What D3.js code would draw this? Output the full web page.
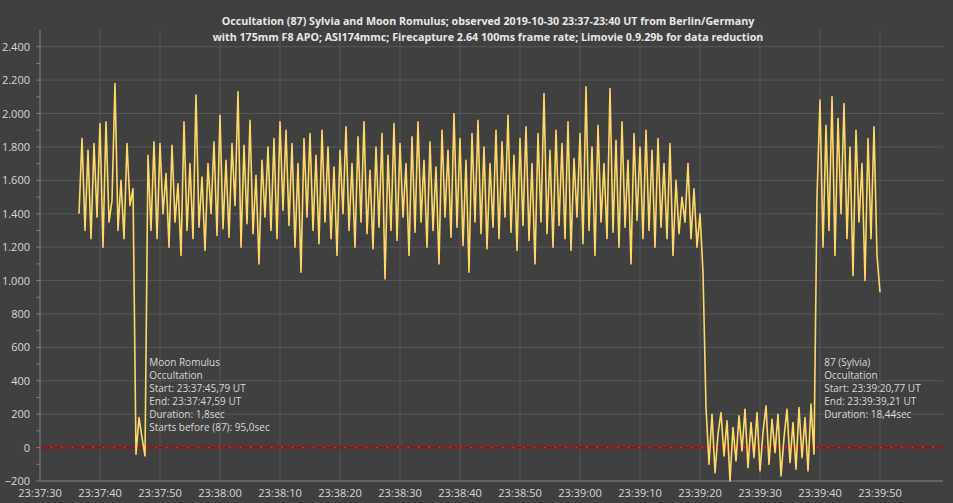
<!DOCTYPE html>
<html><head><meta charset="utf-8">
<script src="https://cdn.jsdelivr.net/npm/d3@7"></script>
<style>body{margin:0;background:#404040}svg{display:block}</style>
</head><body>
<svg id="c" width="953" height="503"></svg>
<script>
const titleLines = ["Occultation (87) Sylvia and Moon Romulus; observed 2019-10-30 23:37-23:40 UT from Berlin/Germany",
  "with 175mm F8 APO; ASI174mmc;  Firecapture 2.64 100ms frame rate; Limovie 0.9.29b for data reduction"];
const tStart = 6.5, tStep = 0.5; // seconds after 23:37:30
const seg1 = [1400,1850,1300,1780,1250,1820,1380,1940,1200,1950,1350,1480,2180,1300,1600,1250,1820,1450,1550];
const dipRomulus = [-40,180,60,-50];
const seg2 = [1750,1300,1830,1250,1820,1400,1640,1200,1810,1350,1580,1150,1950,1300,1700,1250,2110,1320,1620,1180,1700,1400,1830,1270,1990,1310,1720,1260,1820,1450,2130,1200,1810,1340,1960,1280,1630,1100,1720,1380,1800,1300,1850,1250,1950,1420,1900,1330,1820,1200,1700,1050,1850,1380,1880,1300,1750,1220,1900,1350,
1800,1250,1680,1150,1780,1400,1920,1300,1700,1200,1860,1350,1950,1280,1660,1190,1800,1320,1880,1010,1750,1300,1940,1240,1820,1380,1700,1150,1860,1290,1950,1350,1720,1200,1830,1300,1680,1100,1900,1380,1780,1260,2000,1320,1850,1210,1720,1050,1880,1350,1960,1280,1800,1190,1700,1320,1900,1250,1830,1380,
1990,1290,1750,1180,1850,1330,1920,1240,1700,1100,1880,1350,2120,1280,1780,1200,1900,1330,1820,1250,1950,1180,1730,1380,1880,1220,2160,1300,1800,1150,1930,1350,1700,1250,2150,1290,1840,1200,1950,1320,1720,1100,1880,1360,1800,1250,1900,1300,1780,1200,1850,1320,1700,1250,1820,1150,1600,1280,1500,1350,
1700,1250,1550,1200,1400,1050];
const dipSylvia = [240,-100,200,-150,80,210,-50,160,-200,120,-80,190,-20,230,-120,150,-60,210,-140,90,250,-100,170,-30,200,-170,60,230,-90,150,-130,240,-60,180,-140,260,-40];
const seg3 = [1500,2080,1200,1930,1300,2100,1150,1970,1400,2060,1250,1800,1030,1900,1350,1700,1000,1850,1250,1920,1150,930];
const yTicks = [-200,0,200,400,600,800,1000,1200,1400,1600,1800,2000,2200,2400];
const xTickLabels = ["23:37:30","23:37:40","23:37:50","23:38:00","23:38:10","23:38:20","23:38:30","23:38:40","23:38:50","23:39:00","23:39:10","23:39:20","23:39:30","23:39:40","23:39:50"];
const noteRomulus = ["Moon Romulus","Occultation","Start: 23:37:45,79 UT","End: 23:37:47,59 UT","Duration: 1,8sec","Starts before (87): 95,0sec"];
const noteSylvia = ["87 (Sylvia)","Occultation","Start: 23:39:20,77 UT","End: 23:39:39,21 UT","Duration: 18,44sec"];

const values = [...seg1,...dipRomulus,...seg2,...dipSylvia,...seg3];
const data = values.map((v,i)=>({t:tStart+i*tStep, v}));

const svg = d3.select("#c");
const x = d3.scaleLinear().domain([0,150.5]).range([40,943]);
const y = d3.scaleLinear().domain([-200,2500]).range([481,30]);
const fmt = v => d3.format(",")(v).replace(/,/g,".");
const font = "'Open Sans', sans-serif";
const txt = "#d9d9d9";

svg.append("g").selectAll("line").data(yTicks).join("line")
  .attr("x1",40).attr("x2",943).attr("y1",d=>y(d)).attr("y2",d=>y(d))
  .attr("stroke","#575757").attr("stroke-width",1);
svg.append("g").selectAll("line").data(xTickLabels).join("line")
  .attr("x1",(d,i)=>x(i*10)).attr("x2",(d,i)=>x(i*10)).attr("y1",y(-200)).attr("y2",30)
  .attr("stroke","#575757").attr("stroke-width",1);
svg.append("line").attr("x1",40).attr("x2",40).attr("y1",30).attr("y2",y(-200)).attr("stroke","#7a7a7a");
svg.append("line").attr("x1",40).attr("x2",943).attr("y1",y(-200)).attr("y2",y(-200)).attr("stroke","#7a7a7a");
svg.append("g").selectAll("line").data(d3.range(-200,2500,100)).join("line")
  .attr("x1",36).attr("x2",40).attr("y1",d=>y(d)).attr("y2",d=>y(d)).attr("stroke","#7a7a7a");
svg.append("g").selectAll("text").data(yTicks).join("text")
  .attr("x",30).attr("y",d=>y(d)+4).attr("text-anchor","end")
  .attr("fill",txt).attr("font-family",font).attr("font-size",11).text(fmt);
svg.append("g").selectAll("text").data(xTickLabels).join("text")
  .attr("x",(d,i)=>x(i*10)).attr("y",497).attr("text-anchor","middle")
  .attr("fill",txt).attr("font-family",font).attr("font-size",11).text(d=>d);

svg.append("line").attr("x1",40).attr("x2",943).attr("y1",y(0)).attr("y2",y(0))
  .attr("stroke","#8b1a1a").attr("stroke-width",2.5);
svg.append("line").attr("x1",40).attr("x2",943).attr("y1",y(0)).attr("y2",y(0))
  .attr("stroke","#e04040").attr("stroke-width",1.2).attr("stroke-dasharray","1.5,9");

svg.append("path").datum(data)
  .attr("d",d3.line().x(d=>x(d.t)).y(d=>y(d.v)))
  .attr("fill","none").attr("stroke","#ffd966").attr("stroke-width",1.6).attr("stroke-linejoin","round");

svg.append("g").selectAll("text").data(titleLines).join("text")
  .attr("x",488).attr("y",(d,i)=>25+i*16).attr("text-anchor","middle")
  .attr("fill","#e8e8e8").attr("font-family",font).attr("font-weight","bold").attr("font-size",10.7).text(d=>d);

function note(lines, tx, ty){
  svg.append("g").selectAll("text").data(lines).join("text")
    .attr("x",tx).attr("y",(d,i)=>ty+i*13).attr("fill",txt)
    .attr("font-family",font).attr("font-size",10).text(d=>d);
}
note(noteRomulus, x(18.2), 366);
note(noteSylvia, x(130.7), 366);
</script>
</body></html>
